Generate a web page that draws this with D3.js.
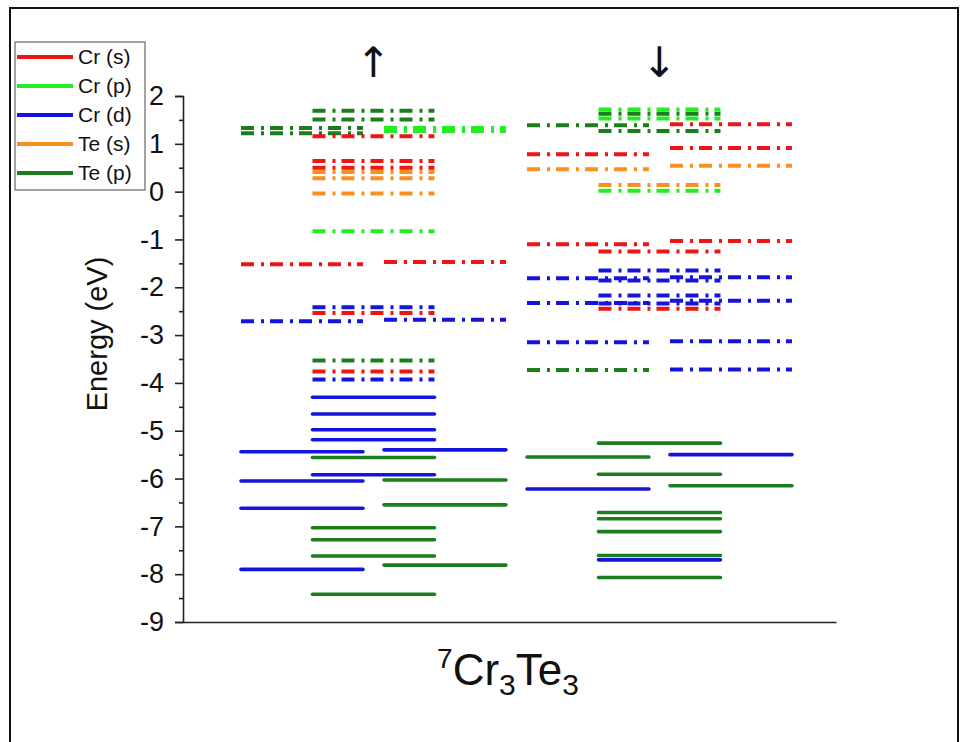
<!DOCTYPE html>
<html>
<head>
<meta charset="utf-8">
<script src="https://cdn.jsdelivr.net/npm/d3@7/dist/d3.min.js"></script>
<style>
  html, body { margin: 0; padding: 0; background: #fff; }
  svg { display: block; font-family: "Liberation Sans", Arial, sans-serif; }
</style>
</head>
<body>
<svg id="chart" width="961" height="742"></svg>
<script>
// ---------------- data ----------------
const orbitals = ["Cr (s)", "Cr (p)", "Cr (d)", "Te (s)", "Te (p)"];
const orbitalColors = ["#ee1515", "#22ee22", "#1414dd", "#f8901e", "#1b7d1b"];
const spinLabels = ["\u2191", "\u2193"];
const yTicks = [-9, -8, -7, -6, -5, -4, -3, -2, -1, 0, 1, 2];
const xTitle = { pre: "7", parts: [["Cr", "3"], ["Te", "3"]] };

// highest occupied level for each spin (levels at or below are solid lines)
const homoUp = -4.30;
const homoDown = -5.26;

// [energy (eV), orbital]
const upLeft = [
  [1.33, "Te (p)"], [1.22, "Te (p)"], [-1.52, "Cr (s)"], [-2.71, "Cr (d)"],
  [-5.44, "Cr (d)"], [-6.05, "Cr (d)"], [-6.62, "Cr (d)"], [-7.90, "Cr (d)"]
];
const upMid = [
  [1.69, "Te (p)"], [1.51, "Te (p)"], [1.16, "Cr (s)"], [0.64, "Cr (s)"],
  [0.50, "Cr (s)"], [0.41, "Te (s)"], [0.28, "Te (s)"], [-0.04, "Te (s)"],
  [-0.83, "Cr (p)"], [-2.42, "Cr (d)"], [-2.54, "Cr (s)"], [-3.53, "Te (p)"],
  [-3.76, "Cr (s)"], [-3.93, "Cr (d)"], [-4.30, "Cr (d)"], [-4.65, "Cr (d)"],
  [-4.98, "Cr (d)"], [-5.19, "Cr (d)"], [-5.56, "Te (p)"], [-5.92, "Cr (d)"],
  [-7.03, "Te (p)"], [-7.28, "Te (p)"], [-7.62, "Te (p)"], [-8.42, "Te (p)"]
];
const upRight = [
  [1.33, "Cr (p)"], [1.27, "Cr (p)"], [-1.47, "Cr (s)"], [-2.68, "Cr (d)"],
  [-5.40, "Cr (d)"], [-6.03, "Te (p)"], [-6.55, "Te (p)"], [-7.81, "Te (p)"]
];
const downLeft = [
  [1.39, "Te (p)"], [0.78, "Cr (s)"], [0.47, "Te (s)"], [-1.10, "Cr (s)"],
  [-1.81, "Cr (d)"], [-2.33, "Cr (d)"], [-3.15, "Cr (d)"], [-3.73, "Te (p)"],
  [-5.55, "Te (p)"], [-6.22, "Cr (d)"]
];
const downMid = [
  [1.72, "Cr (p)"], [1.63, "Te (p)"], [1.53, "Cr (p)"], [1.27, "Te (p)"],
  [0.14, "Te (s)"], [0.02, "Cr (p)"], [-1.25, "Cr (s)"], [-1.65, "Cr (d)"],
  [-1.86, "Cr (d)"], [-2.17, "Cr (d)"], [-2.34, "Cr (d)"], [-2.45, "Cr (s)"],
  [-5.26, "Te (p)"], [-5.91, "Te (p)"], [-6.71, "Te (p)"], [-6.84, "Te (p)"],
  [-7.11, "Te (p)"], [-7.61, "Te (p)"], [-7.70, "Cr (d)"], [-8.07, "Te (p)"]
];
const downRight = [
  [1.41, "Cr (s)"], [0.91, "Cr (s)"], [0.54, "Te (s)"], [-1.03, "Cr (s)"],
  [-1.79, "Cr (d)"], [-2.28, "Cr (d)"], [-3.13, "Cr (d)"], [-3.72, "Cr (d)"],
  [-5.50, "Cr (d)"], [-6.15, "Te (p)"]
];

// column slots (categorical x): spin-up group 0..2, spin-down group 4..6
const columns = [
  { slot: 0, homo: homoUp, levels: upLeft },
  { slot: 1, homo: homoUp, levels: upMid },
  { slot: 2, homo: homoUp, levels: upRight },
  { slot: 4, homo: homoDown, levels: downLeft },
  { slot: 5, homo: homoDown, levels: downMid },
  { slot: 6, homo: homoDown, levels: downRight }
];
const spinSlots = [1, 5];

// ---------------- layout ----------------
const svg = d3.select("#chart");
const axisLeftX = 183, axisRightX = 836, axisTopY = 96, axisBottomY = 622;

const x = d3.scaleLinear().domain([-1.664, 7.469]).range([axisLeftX, axisRightX]);
const y = d3.scaleLinear().domain([-9, 2]).range([axisBottomY, axisTopY]);
const color = d3.scaleOrdinal().domain(orbitals).range(orbitalColors);
const halfW = 0.853;

// outer frame
svg.append("rect").attr("x", 10).attr("y", 8).attr("width", 948).attr("height", 745)
  .attr("fill", "none").attr("stroke", "#111").attr("stroke-width", 2);

// levels
const flat = [];
columns.forEach(c => c.levels.forEach(l => flat.push({ slot: c.slot, e: l[0], orb: l[1], occ: l[0] <= c.homo + 1e-9 })));

svg.append("g").selectAll("line").data(flat).join("line")
  .attr("x1", d => x(d.slot - halfW))
  .attr("x2", d => x(d.slot + halfW))
  .attr("y1", d => y(d.e))
  .attr("y2", d => y(d.e))
  .attr("stroke", d => color(d.orb))
  .attr("stroke-width", d => d.occ ? 3.6 : 4)
  .attr("stroke-linecap", d => d.occ ? "round" : "butt")
  .attr("stroke-dasharray", d => d.occ ? null : "13,7,3,6");

// y axis
const yAxis = d3.axisLeft(y).tickValues(yTicks).tickFormat(d => String(d))
  .tickSize(8).tickPadding(11);
const gy = svg.append("g").attr("transform", `translate(${axisLeftX},0)`).call(yAxis);
gy.select(".domain").attr("stroke", "#222").attr("stroke-width", 1.6);
gy.selectAll(".tick line").attr("stroke", "#222").attr("stroke-width", 1.6);
gy.selectAll(".tick text").attr("font-size", 27).attr("fill", "#111")
  .attr("font-family", "'Liberation Sans', Arial, sans-serif");

const minor = d3.range(-8.5, 2, 1);
svg.append("g").attr("transform", `translate(${axisLeftX},0)`)
  .call(d3.axisLeft(y).tickValues(minor).tickFormat("").tickSize(4))
  .call(g => g.select(".domain").remove())
  .selectAll(".tick line").attr("stroke", "#222").attr("stroke-width", 1.6);

// x axis line (no ticks)
const xAxis = d3.axisBottom(x).tickValues([]).tickSizeOuter(0);
svg.append("g").attr("transform", `translate(0,${axisBottomY})`).call(xAxis)
  .select(".domain").attr("stroke", "#222").attr("stroke-width", 1.6);

// y title
svg.append("text").attr("transform", "translate(107,334) rotate(-90)")
  .attr("text-anchor", "middle").attr("font-size", 29).attr("fill", "#111")
  .text("Energy (eV)");

// x title
const xt = svg.append("text").attr("x", 508).attr("y", 685)
  .attr("text-anchor", "middle").attr("font-size", 44).attr("fill", "#111");
xt.append("tspan").attr("font-size", 28).attr("dy", -17).text(xTitle.pre);
xt.append("tspan").attr("dy", 17).text(xTitle.parts[0][0]);
xt.append("tspan").attr("font-size", 30).attr("dy", 10).text(xTitle.parts[0][1]);
xt.append("tspan").attr("dy", -10).text(xTitle.parts[1][0]);
xt.append("tspan").attr("font-size", 30).attr("dy", 10).text(xTitle.parts[1][1]);

// spin arrows
svg.append("g").selectAll("text").data(spinLabels).join("text")
  .attr("x", (d, i) => x(spinSlots[i]))
  .attr("y", 77)
  .attr("text-anchor", "middle")
  .attr("font-size", 42)
  .attr("font-family", "'DejaVu Sans', sans-serif")
  .attr("fill", "#111")
  .text(d => d);

// legend
const lg = svg.append("g");
lg.append("rect").attr("x", 15).attr("y", 42).attr("width", 130).attr("height", 148)
  .attr("fill", "#fff").attr("stroke", "#666").attr("stroke-width", 1.2);
const legendY = d3.scalePoint().domain(orbitals).range([57, 173]);
const items = lg.selectAll("g.item").data(orbitals).join("g").attr("class", "item");
items.append("line").attr("x1", 17).attr("x2", 73)
  .attr("y1", d => legendY(d)).attr("y2", d => legendY(d))
  .attr("stroke", d => color(d)).attr("stroke-width", 4);
items.append("text").attr("x", 78).attr("y", d => legendY(d) + 7)
  .attr("font-size", 21).attr("fill", "#111").text(d => d);
</script>
</body>
</html>
